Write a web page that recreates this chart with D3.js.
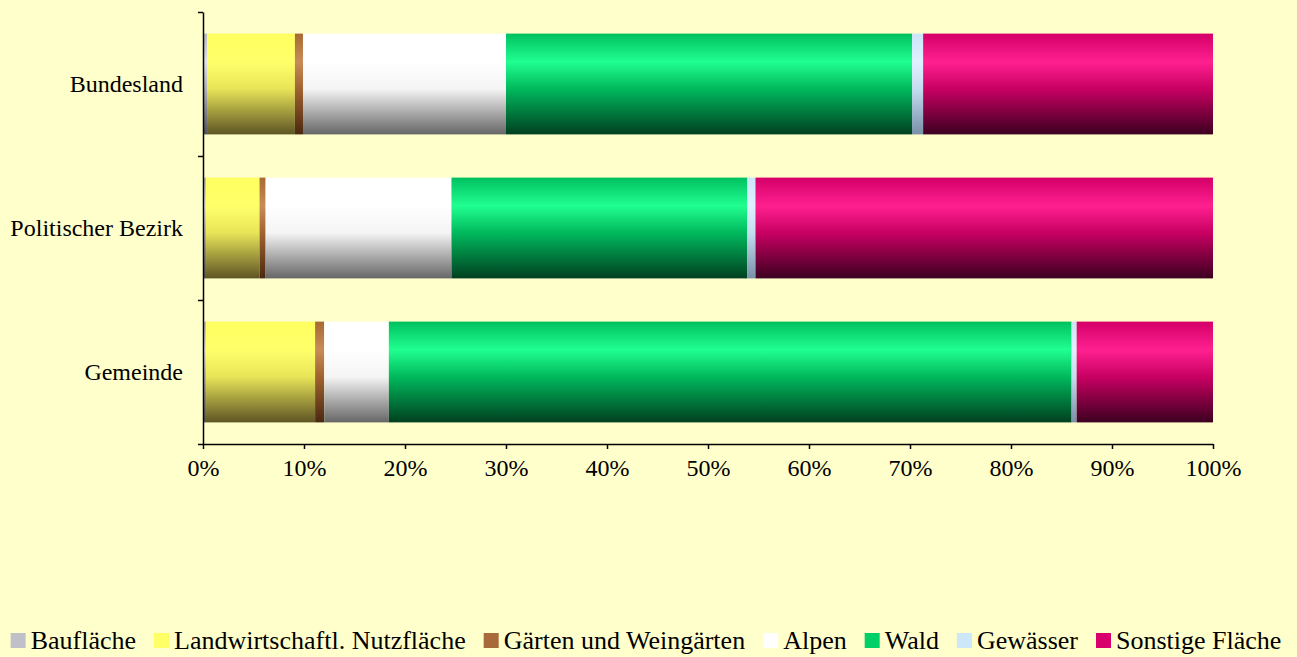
<!DOCTYPE html>
<html><head><meta charset="utf-8">
<script src="https://cdn.jsdelivr.net/npm/d3@7"></script>
<style>
html,body{margin:0;padding:0;background:#ffffcc;}
svg{display:block;font-family:"Liberation Serif","Times New Roman",serif;}
</style></head>
<body><svg id="c" width="1297" height="657"></svg>
<script>
const categories = ["Bundesland", "Politischer Bezirk", "Gemeinde"];
const seriesNames = ["Baufläche", "Landwirtschaftl. Nutzfläche", "Gärten und Weingärten", "Alpen", "Wald", "Gewässer", "Sonstige Fläche"];
const bauflaeche = [0.4, 0.3, 0.3];
const landwirtschaft = [8.7, 5.3, 10.8];
const gaerten = [0.8, 0.6, 0.9];
const alpen = [20.1, 18.4, 6.4];
const wald = [40.2, 29.3, 67.6];
const gewaesser = [1.1, 0.8, 0.5];
const sonstige = [28.7, 45.3, 13.5];
const xTicks = [0,10,20,30,40,50,60,70,80,90,100];

const legendColors = ["#c0c0c8","#ffff66","#a86a3a","#ffffff","#00d066","#cce8f8","#d8006c"];
// gradient stops: [top, upper-bright, middle, bottom]
const gradStops = [
  ["#b8b8c0","#e0e0e8","#b0b0b8","#505058"],
  ["#ffff60","#ffff6a","#e8e458","#5e5424"],
  ["#a86a34","#c88c58","#a06230","#4a2810"],
  ["#ffffff","#ffffff","#f4f4f4","#666666"],
  ["#00c060","#20ff90","#00b85c","#004020"],
  ["#cce4f8","#e0f0ff","#c4dcf0","#7890a8"],
  ["#d40068","#ff2090","#c80062","#3c0020"]
];

const values = [bauflaeche, landwirtschaft, gaerten, alpen, wald, gewaesser, sonstige];
const rows = categories.map((c,i)=>{const o={cat:c}; seriesNames.forEach((s,j)=>o[s]=values[j][i]); return o;});
const stack = d3.stack().keys(seriesNames).offset(d3.stackOffsetExpand)(rows);

const svg = d3.select("#c");
const pLeft = 203, pRight = 1213, pTop = 12, pBottom = 444;
const x = d3.scaleLinear().domain([0,1]).range([pLeft,pRight]);
const y = d3.scaleBand().domain(categories).range([pTop,pBottom]).paddingInner(0.3).paddingOuter(0.15);

const defs = svg.append("defs");
gradStops.forEach((st,i)=>{
  const g = defs.append("linearGradient").attr("id","g"+i).attr("x1",0).attr("y1",0).attr("x2",0).attr("y2",1);
  [0,0.28,0.55,1].forEach((o,k)=>g.append("stop").attr("offset",o).attr("stop-color",st[k]));
});

svg.append("g").selectAll("g").data(stack).join("g")
  .attr("fill",(d,i)=>"url(#g"+i+")")
  .selectAll("rect").data(d=>d).join("rect")
  .attr("x",d=>x(d[0])).attr("width",d=>x(d[1])-x(d[0]))
  .attr("y",d=>y(d.data.cat)).attr("height",y.bandwidth());

// x axis
const xs = d3.scaleLinear().domain([0,100]).range([pLeft,pRight]);
const xa = svg.append("g").attr("transform",`translate(0,${pBottom})`)
  .call(d3.axisBottom(xs).tickValues(xTicks).tickFormat(d=>d+"%").tickSize(5).tickSizeOuter(0));
xa.selectAll("path,line").attr("stroke","#000").attr("stroke-width",1.5);
xa.selectAll("text").attr("font-size",24).attr("font-family","Liberation Serif").attr("fill","#000").attr("y",15);

// y axis line & ticks at band boundaries
const yb = d3.scaleLinear().domain([0,categories.length]).range([pTop,pBottom]);
const ya = svg.append("g").attr("transform",`translate(${pLeft},0)`)
  .call(d3.axisLeft(yb).tickValues(d3.range(categories.length+1)).tickFormat("").tickSize(5).tickSizeOuter(0));
ya.selectAll("path,line").attr("stroke","#000").attr("stroke-width",1.5);

// category labels
svg.append("g").selectAll("text").data(categories).join("text")
  .attr("x",pLeft-20).attr("y",d=>y(d)+y.bandwidth()/2).attr("dy","0.35em")
  .attr("text-anchor","end").attr("font-size",24).text(d=>d);

// legend
const lg = svg.append("g");
const items = lg.selectAll("g").data(seriesNames).join("g");
items.append("rect").attr("width",15).attr("height",15).attr("y",-16).attr("fill",(d,i)=>legendColors[i]);
items.append("text").attr("x",20).attr("font-size",26).text(d=>d);
let cx = 0;
const gap = 18;
items.each(function(){
  const w = d3.select(this).select("text").node().getComputedTextLength()+20;
  d3.select(this).attr("transform",`translate(${cx},0)`);
  cx += w + gap;
});
const total = cx - gap;
lg.attr("transform",`translate(${646 - total/2},649)`);
</script></body></html>
